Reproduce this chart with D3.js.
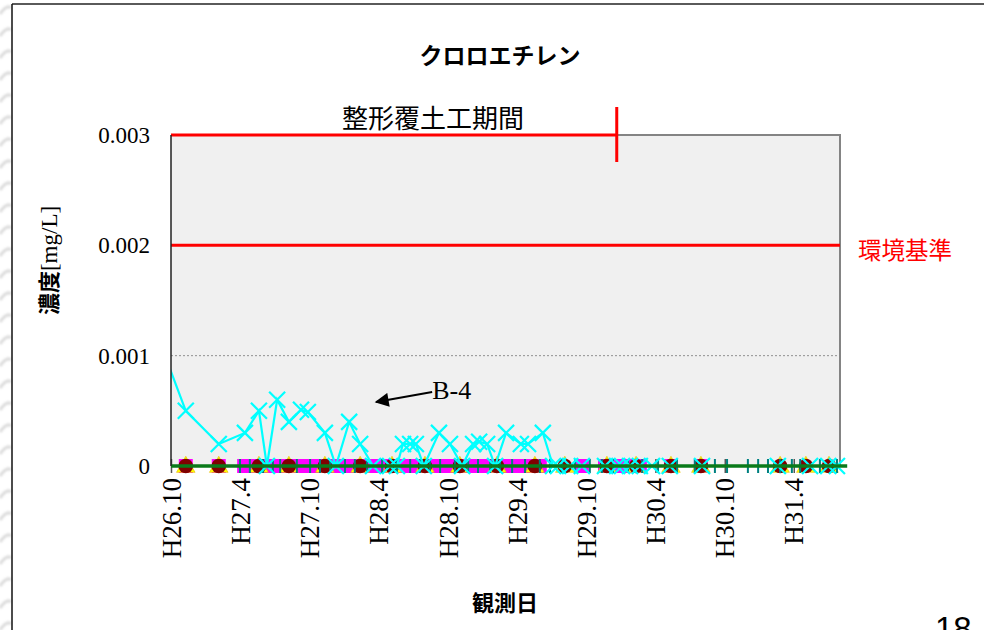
<!DOCTYPE html>
<html lang="ja">
<head>
<meta charset="utf-8">
<title>クロロエチレン</title>
<script src="https://cdn.jsdelivr.net/npm/d3@7"></script>
<style>
  html, body { margin: 0; padding: 0; background: #fff; }
  svg { display: block; }
</style>
</head>
<body>
<svg id="chart" width="984" height="630"></svg>
<script>
// ---- data -------------------------------------------------------------
const chartTitle = "クロロエチレン";
const yTickValues = [0, 0.001, 0.002, 0.003];
const xTickDates = ["2014-10-01", "2015-04-01", "2015-10-01", "2016-04-01", "2016-10-01",
                    "2017-04-01", "2017-10-01", "2018-04-01", "2018-10-01", "2019-04-01"];
const xTickLabels = ["H26.10", "H27.4", "H27.10", "H28.4", "H28.10",
                     "H29.4", "H29.10", "H30.4", "H30.10", "H31.4"];
const xDomain = ["2014-10-01", "2019-08-01"];

const envStandard = 0.002;                       // 環境基準
const workPeriod = ["2014-10-01", "2017-12-20"]; // 整形覆土工期間
const workLevel = 0.003;

// B-4 (cyan line, x markers)
const b4Dates = ["2014-09-15", "2014-11-09", "2015-02-04", "2015-04-14", "2015-05-21", "2015-06-11",
  "2015-07-08", "2015-08-08", "2015-09-09", "2015-09-27", "2015-11-11", "2015-12-10", "2016-01-14",
  "2016-02-12", "2016-03-17", "2016-05-01", "2016-05-19", "2016-06-04", "2016-06-23", "2016-07-08",
  "2016-07-29", "2016-09-07", "2016-10-06", "2016-11-07", "2016-12-06", "2016-12-22", "2017-01-12",
  "2017-02-02", "2017-03-03", "2017-04-11", "2017-04-30", "2017-06-08", "2017-07-05", "2017-07-18",
  "2017-08-19", "2017-09-19", "2017-11-19", "2017-12-21", "2018-01-03", "2018-01-24", "2018-02-19",
  "2018-03-23", "2018-05-09", "2018-08-02", "2019-02-18", "2019-05-14", "2019-07-01", "2019-07-24"];
const b4Values = [0.001, 0.0005, 0.0002, 0.0003, 0.0005, 0,
  0.0006, 0.0004, 0.00051, 0.00049, 0.0003, 0, 0.0004,
  0.0002, 0, 0, 0, 0.0002, 0.0002, 0.0002,
  0, 0.0003, 0.0002, 0, 0.0002, 0.00022, 0.0002,
  0, 0.0003, 0.0002, 0.0002, 0.0003, 0, 0,
  0, 0, 0, 0, 0, 0, 0,
  0, 0, 0, 0, 0, 0, 0];

// quarterly wells (dark red circles / yellow triangles), all below detection
const quarterlyDates = ["2014-11-09", "2015-02-04", "2015-05-21", "2015-08-08", "2015-11-11", "2016-02-12",
  "2016-05-06", "2016-08-01", "2016-11-01", "2017-02-07", "2017-05-18", "2017-08-05", "2017-11-24",
  "2018-02-09", "2018-05-12", "2018-07-30", "2019-02-24", "2019-05-03", "2019-07-03"];
const quarterlyValues = [0, 0, 0, 0, 0, 0, 0, 0, 0, 0, 0, 0, 0, 0, 0, 0, 0, 0, 0];

// monthly well (magenta squares)
const monthlyDates = ["2014-11-09", "2015-02-04", "2015-04-12", "2015-05-11", "2015-06-11", "2015-07-10",
  "2015-08-11", "2015-09-09", "2015-10-11", "2015-11-09", "2015-12-10", "2016-01-08", "2016-02-09",
  "2016-03-09", "2016-04-10", "2016-05-09", "2016-06-09", "2016-07-08", "2016-08-09", "2016-09-07",
  "2016-10-09", "2016-11-07", "2016-12-08", "2017-01-06", "2017-02-07", "2017-03-08", "2017-04-09",
  "2017-05-08", "2017-05-31", "2017-09-19", "2017-11-19", "2017-12-21", "2018-01-24", "2018-02-19",
  "2018-05-12", "2018-07-30"];
const monthlyValues = monthlyDates.map(() => 0);

// drainage (teal plus markers)
const drainDates = ["2015-04-01", "2015-04-27", "2015-06-01", "2015-06-27", "2015-07-16", "2015-08-29",
  "2015-10-03", "2015-10-29", "2015-11-25", "2016-01-03", "2016-01-29", "2016-03-01", "2016-04-10",
  "2016-05-19", "2016-06-23", "2016-07-19", "2016-08-14", "2016-09-10", "2016-10-19", "2016-11-23",
  "2016-12-19", "2017-01-20", "2017-02-15", "2017-03-19", "2017-04-22", "2017-05-31", "2017-06-27",
  "2017-07-29", "2017-09-01", "2017-10-10", "2017-11-11", "2017-12-10", "2018-01-19", "2018-02-25",
  "2018-04-08", "2018-05-28", "2018-07-14", "2018-09-05", "2018-10-07", "2018-12-01", "2018-12-28",
  "2019-01-23", "2019-02-24", "2019-03-27", "2019-04-18", "2019-06-09", "2019-07-24"];
const drainValues = drainDates.map(() => 0);

// boundary well (green line)
const boundaryDates = ["2014-10-01", "2015-04-01", "2015-10-01", "2016-04-01", "2016-10-01", "2017-04-01",
  "2017-10-01", "2018-04-01", "2018-10-01", "2019-04-01", "2019-08-20"];
const boundaryValues = [0, 0, 0, 0, 0, 0, 0, 0, 0, 0, 0];

// ---- layout -----------------------------------------------------------
const plot = { left: 171, right: 840, top: 135, bottom: 466 };
const serif = "'Liberation Serif', 'Times New Roman', serif";
const gothic = "'Noto Sans CJK JP', 'Noto Sans', sans-serif";

const parse = d3.utcParse("%Y-%m-%d");
const x = d3.scaleUtc().domain(xDomain.map(parse)).range([plot.left, plot.right]);
const y = d3.scaleLinear().domain([0, 0.003]).range([plot.bottom, plot.top]);

const svg = d3.select("#chart");
svg.append("rect").attr("width", 984).attr("height", 630).attr("fill", "#fff");

// slide frame with faint background texture at the left edge
const defs = svg.append("defs");
defs.append("filter").attr("id", "soft").append("feGaussianBlur").attr("stdDeviation", 1.2);
defs.append("clipPath").attr("id", "plotClip").append("rect")
  .attr("x", plot.left).attr("y", plot.top - 10)
  .attr("width", plot.right - plot.left + 10).attr("height", plot.bottom - plot.top + 20);

const tex = svg.append("g").attr("filter", "url(#soft)").attr("opacity", 0.6);
d3.range(0, 630, 22).forEach(v => {
  tex.append("path")
    .attr("d", `M0,${v + 14} Q7,${v + 4} 11,${v + 8}`)
    .attr("fill", "none").attr("stroke", "#c4c4c4").attr("stroke-width", 3);
});
svg.append("line").attr("x1", 12).attr("x2", 984).attr("y1", 4).attr("y2", 4)
  .attr("stroke", "#5a5a5a").attr("stroke-width", 2);
svg.append("line").attr("x1", 12).attr("x2", 12).attr("y1", 4).attr("y2", 630)
  .attr("stroke", "#111").attr("stroke-width", 1.5);

// plot area
svg.append("rect")
  .attr("x", plot.left).attr("y", plot.top)
  .attr("width", plot.right - plot.left).attr("height", plot.bottom - plot.top)
  .attr("fill", "#f0f0f0");

// horizontal gridlines
svg.append("g").selectAll("line").data(yTickValues.filter(v => v > 0 && v < 0.003)).join("line")
  .attr("x1", plot.left).attr("x2", plot.right)
  .attr("y1", d => y(d)).attr("y2", d => y(d))
  .attr("stroke", "#777").attr("stroke-width", 0.8).attr("stroke-dasharray", "2,2");

// plot border (top and right)
svg.append("path")
  .attr("d", `M${plot.left},${plot.top}H${plot.right}V${plot.bottom}`)
  .attr("fill", "none").attr("stroke", "#848484").attr("stroke-width", 2);

// x axis: ticks cross the zero line, labels rotated
const xAxis = d3.axisBottom(x)
  .tickValues(xTickDates.map(parse))
  .tickFormat((d, i) => xTickLabels[i])
  .tickSizeOuter(0);
const gx = svg.append("g").attr("transform", `translate(0,${plot.bottom})`).call(xAxis);
gx.select(".domain").remove();
gx.selectAll(".tick line").attr("y1", -7).attr("y2", 7).attr("stroke", "#555").attr("stroke-width", 1.5);
gx.selectAll(".tick text")
  .attr("transform", "rotate(-90)")
  .attr("x", -12).attr("y", 0).attr("dy", "0.34em")
  .attr("text-anchor", "end")
  .attr("fill", "#000")
  .style("font-family", serif).style("font-size", "27px");

// y axis
const yAxis = d3.axisLeft(y)
  .tickValues(yTickValues)
  .tickFormat(d => d === 0 ? "0" : d.toFixed(3))
  .tickSize(0).tickPadding(21);
const gy = svg.append("g").attr("transform", `translate(${plot.left},0)`).call(yAxis);
gy.select(".domain").remove();
gy.selectAll(".tick text").attr("fill", "#000")
  .style("font-family", serif).style("font-size", "23px");

// reference lines
svg.append("line")
  .attr("x1", plot.left).attr("x2", plot.right)
  .attr("y1", y(envStandard)).attr("y2", y(envStandard))
  .attr("stroke", "#ff0000").attr("stroke-width", 3);
svg.append("text")
  .attr("x", plot.right + 18).attr("y", y(envStandard) + 14)
  .attr("fill", "#ff0000")
  .style("font-family", gothic).style("font-size", "23.5px")
  .text("環境基準");

const wpEnd = x(parse(workPeriod[1]));
svg.append("line")
  .attr("x1", x(parse(workPeriod[0]))).attr("x2", wpEnd)
  .attr("y1", y(workLevel)).attr("y2", y(workLevel))
  .attr("stroke", "#ff0000").attr("stroke-width", 3);
svg.append("line")
  .attr("x1", wpEnd).attr("x2", wpEnd)
  .attr("y1", y(workLevel) - 28).attr("y2", y(workLevel) + 27)
  .attr("stroke", "#ff0000").attr("stroke-width", 3);
svg.append("text")
  .attr("x", 433).attr("y", y(workLevel) - 7)
  .attr("text-anchor", "middle").attr("fill", "#000")
  .style("font-family", gothic).style("font-size", "26px")
  .text("整形覆土工期間");

// ---- series -------------------------------------------------------------
const toPoints = (dates, values) => dates.map((d, i) => ({ date: parse(d), value: values[i] }));
const inRange = p => p.date >= x.domain()[0] && p.date <= x.domain()[1];

const monthly = toPoints(monthlyDates, monthlyValues).filter(inRange);
const quarterly = toPoints(quarterlyDates, quarterlyValues).filter(inRange);
const drain = toPoints(drainDates, drainValues).filter(inRange);
const b4 = toPoints(b4Dates, b4Values);
const boundary = toPoints(boundaryDates, boundaryValues);

const series = svg.append("g");

series.append("g").selectAll("rect").data(monthly).join("rect")
  .attr("x", d => x(d.date) - 7).attr("y", d => y(d.value) - 7)
  .attr("width", 14).attr("height", 14)
  .attr("fill", "#ff00ff");

const tri = d3.symbol().type(d3.symbolTriangle).size(150);
series.append("g").selectAll("path").data(quarterly).join("path")
  .attr("d", tri)
  .attr("transform", d => `translate(${x(d.date)},${y(d.value) + 1})`)
  .attr("fill", "#ffff00").attr("stroke", "#e8b800").attr("stroke-width", 0.6);

series.append("g").selectAll("circle").data(quarterly).join("circle")
  .attr("cx", d => x(d.date)).attr("cy", d => y(d.value)).attr("r", 7.3)
  .attr("fill", "#800000");

series.append("g").selectAll("path").data(drain).join("path")
  .attr("d", "M0,-7V7M-7,0H7")
  .attr("transform", d => `translate(${x(d.date)},${y(d.value)})`)
  .attr("fill", "none").attr("stroke", "#008080").attr("stroke-width", 2);

const line = d3.line().x(d => x(d.date)).y(d => y(d.value));
series.append("path").datum(b4)
  .attr("d", line)
  .attr("clip-path", "url(#plotClip)")
  .attr("fill", "none").attr("stroke", "#00ffff").attr("stroke-width", 2.2);
series.append("g").selectAll("path").data(b4.filter(inRange)).join("path")
  .attr("d", "M-8,-8L8,8M-8,8L8,-8")
  .attr("transform", d => `translate(${x(d.date)},${y(d.value)})`)
  .attr("fill", "none").attr("stroke", "#00ffff").attr("stroke-width", 2.2);

series.append("path").datum(boundary)
  .attr("d", line)
  .attr("fill", "none").attr("stroke", "#0a7a1a").attr("stroke-width", 3.5);

// y axis line on top
svg.append("line")
  .attr("x1", plot.left).attr("x2", plot.left)
  .attr("y1", plot.top).attr("y2", plot.bottom)
  .attr("stroke", "#222").attr("stroke-width", 1.5);

// B-4 callout
const tip = [x(parse("2016-03-25")), y(0.00058)];
const tail = [x(parse("2016-08-20")), y(0.00067)];
defs.append("marker").attr("id", "arrow")
  .attr("viewBox", "0 0 10 10").attr("refX", 9).attr("refY", 5)
  .attr("markerWidth", 8).attr("markerHeight", 7).attr("orient", "auto-start-reverse")
  .append("path").attr("d", "M0,0L10,5L0,10Z").attr("fill", "#000");
svg.append("line")
  .attr("x1", tail[0]).attr("y1", tail[1]).attr("x2", tip[0]).attr("y2", tip[1])
  .attr("stroke", "#000").attr("stroke-width", 2).attr("marker-end", "url(#arrow)");
svg.append("text")
  .attr("x", tail[0]).attr("y", tail[1] + 7)
  .attr("fill", "#000")
  .style("font-family", serif).style("font-size", "26px")
  .text("B-4");

// ---- titles -------------------------------------------------------------
svg.append("text")
  .attr("x", 500).attr("y", 64).attr("text-anchor", "middle")
  .style("font-family", gothic).style("font-size", "23px").style("font-weight", "bold")
  .text(chartTitle);

svg.append("text")
  .attr("x", 505).attr("y", 611).attr("text-anchor", "middle")
  .style("font-family", gothic).style("font-size", "22px").style("font-weight", "bold")
  .text("観測日");

const yTitle = svg.append("text")
  .attr("transform", `translate(57,${(plot.top + plot.bottom) / 2 - 40}) rotate(-90)`)
  .attr("text-anchor", "middle");
yTitle.append("tspan")
  .style("font-family", gothic).style("font-size", "22px").style("font-weight", "bold")
  .text("濃度");
yTitle.append("tspan")
  .style("font-family", serif).style("font-size", "23px")
  .text("[mg/L]");

// page number, partly below the slide edge
svg.append("text")
  .attr("x", 935).attr("y", 640)
  .style("font-family", "'Liberation Sans', Arial, sans-serif").style("font-size", "33px")
  .text("18");
</script>
</body>
</html>
